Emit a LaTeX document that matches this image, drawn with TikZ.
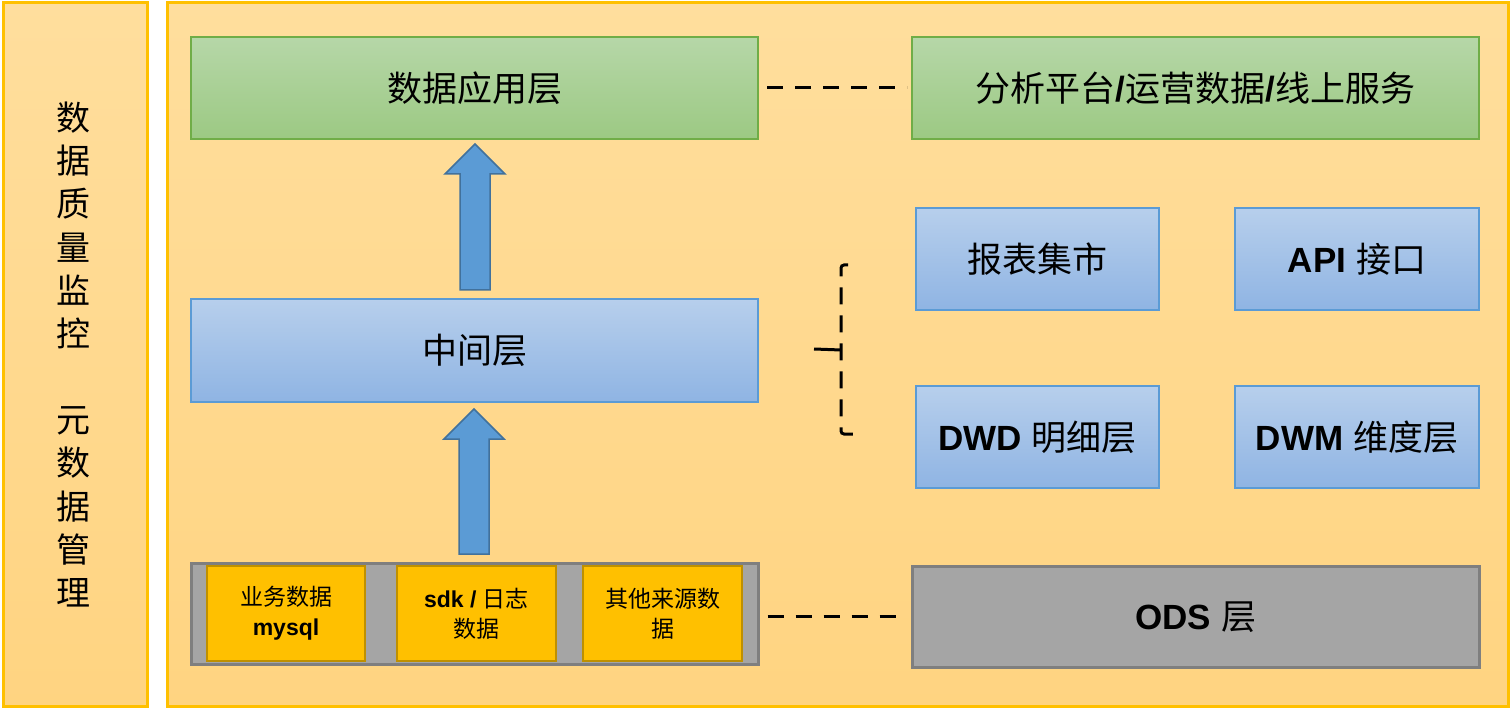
\documentclass[tikz,border=0pt]{standalone}
\usepackage{fontspec}
\setmainfont{Liberation Sans}
\newfontfamily\cjk{Noto Sans CJK SC}
\usetikzlibrary{shadings}
\definecolor{panelborder}{HTML}{FFC000}
\definecolor{paneltop}{HTML}{FFDE9D}
\definecolor{panelbot}{HTML}{FFD481}
\definecolor{greentop}{HTML}{B6D7A8}
\definecolor{greenbot}{HTML}{9CC983}
\definecolor{greenline}{HTML}{70AD47}
\definecolor{bluetop}{HTML}{B7CFEC}
\definecolor{bluebot}{HTML}{8FB4E3}
\definecolor{blueline}{HTML}{5B9BD5}
\definecolor{arrowfill}{HTML}{5B9BD5}
\definecolor{arrowline}{HTML}{41719C}
\definecolor{grayfill}{HTML}{A5A5A5}
\definecolor{grayline}{HTML}{7F7F7F}
\definecolor{goldfill}{HTML}{FFC000}
\definecolor{goldline}{HTML}{BF9000}
\tikzset{
  panel/.style={draw=panelborder, line width=3pt, top color=paneltop, bottom color=panelbot, anchor=north west, inner sep=0pt},
  greenbox/.style={draw=greenline, line width=2pt, top color=greentop, bottom color=greenbot, anchor=north west, inner sep=0pt, font=\fontsize{35}{42}\selectfont},
  bluebox/.style={draw=blueline, line width=2pt, top color=bluetop, bottom color=bluebot, anchor=north west, inner sep=0pt, font=\fontsize{35}{42}\selectfont},
  graybox/.style={draw=grayline, line width=2.5pt, fill=grayfill, anchor=north west, inner sep=0pt, font=\fontsize{35}{42}\selectfont},
  srcbox/.style={draw=goldline, line width=2pt, fill=goldfill, anchor=north west, inner sep=0pt, align=center, font=\fontsize{23}{30}\selectfont},
  blockarrow/.style={draw=arrowline, fill=arrowfill, line width=1.5pt, line join=miter},
  dashline/.style={draw=black, line width=3pt, dash pattern=on 16pt off 12pt},
}
\begin{document}
\begin{tikzpicture}[x=1pt,y=-1pt]
\useasboundingbox (0,0) rectangle (1510,708);
% panels
\node[panel, minimum width=144pt, minimum height=703pt] (left) at (1.5,1.5) {};
\node[panel, minimum width=1341pt, minimum height=703pt] (main) at (165.5,1.5) {};
\node[align=center, font=\fontsize{34}{43.2}\selectfont\cjk, inner sep=0pt] (lefttext) at (73,354.5)
  {数\\据\\质\\量\\监\\控\\\mbox{}\\元\\数\\据\\管\\理};
% top row
\node[greenbox, minimum width=567pt, minimum height=102pt] (app) at (190,36) {\cjk 数据应用层};
\node[greenbox, minimum width=567pt, minimum height=102pt] (ana) at (911,36)
  {{\cjk 分析平台}\textbf{/}{\cjk 运营数据}\textbf{/}{\cjk 线上服务}};
% middle
\node[bluebox, minimum width=567pt, minimum height=103pt] (mid) at (190,298) {\cjk 中间层};
\node[bluebox, minimum width=243pt, minimum height=102pt] (bb) at (915,207) {\cjk 报表集市};
\node[bluebox, minimum width=244pt, minimum height=102pt] (api) at (1234,207) {\textbf{API} {\cjk 接口}};
\node[bluebox, minimum width=243pt, minimum height=102pt] (dwd) at (915,385) {\textbf{DWD} {\cjk 明细层}};
\node[bluebox, minimum width=244pt, minimum height=102pt] (dwm) at (1234,385) {\textbf{DWM} {\cjk 维度层}};
% bottom
\node[graybox, minimum width=567pt, minimum height=101pt] (src) at (190,562) {};
\node[srcbox, minimum width=158pt, minimum height=95pt] (s1) at (206,565) {{\cjk 业务数据}\\\textbf{mysql}};
\node[srcbox, minimum width=159pt, minimum height=95pt] (s2) at (396,565) {\textbf{sdk /} {\cjk 日志}\\{\cjk 数据}};
\node[srcbox, minimum width=159pt, minimum height=95pt] (s3) at (582,565) {{\cjk 其他来源数}\\{\cjk 据}};
\node[graybox, minimum width=567pt, minimum height=101pt] (ods) at (911,565) {\textbf{ODS} {\cjk 层}};
% block arrows
\draw[blockarrow] (460,290) -- (460,174) -- (445,174) -- (475,144) -- (505,174) -- (490,174) -- (490,290) -- cycle;
\draw[blockarrow] (459,554) -- (459,439) -- (444,439) -- (474,409) -- (504,439) -- (489,439) -- (489,554) -- cycle;
% dashed links
\draw[dashline, shorten <=8pt, shorten >=4pt] (app.east) -- (ana.west);
\draw[dashline, shorten <=8pt, shorten >=4pt] (src.east |- ods.west) -- (ods.west);
% brace
\coordinate (bt) at (848,265);
\coordinate (bm) at (841,350);
\coordinate (bb2) at (853,434);
\coordinate (tick) at (814,349);
\draw[draw=black, line width=3pt, dash pattern=on 17pt off 11pt, rounded corners=3pt]
  (bt) -- (841,265) -- (bm) -- (841,434) -- (bb2);
\draw[line width=3pt] (tick) -- (bm);
\end{tikzpicture}
\end{document}
